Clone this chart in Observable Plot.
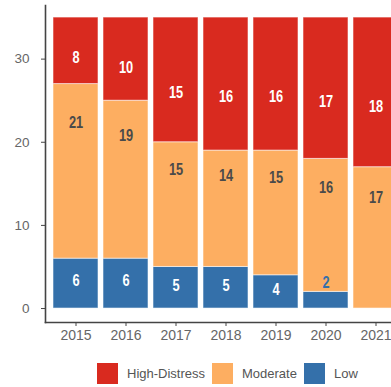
<!DOCTYPE html>
<html>
<head>
<meta charset="utf-8">
<script src="https://cdn.jsdelivr.net/npm/d3@7"></script>
<script src="https://cdn.jsdelivr.net/npm/@observablehq/plot@0.6"></script>
<style>
  body { margin: 0; background: #fff; font-family: "Liberation Sans", Arial, sans-serif; }
  #chart svg g[aria-label$="tick label"] text { fill: #666; }
  #legend { display: flex; align-items: center; margin-top: 13px; padding-left: 97px; font-size: 13px; color: #555; }
  #legend .sw { width: 21px; height: 21px; margin-right: 9px; flex: none; }
  #legend .lab { margin-right: 7px; white-space: nowrap; }
</style>
</head>
<body>
<div id="chart"></div>
<div id="legend"></div>
<script>
// Yearly counts per distress level
const years = ["2015", "2016", "2017", "2018", "2019", "2020", "2021"];
const series = ["Low", "Moderate", "High-Distress"];
const low = [6, 6, 5, 5, 4, 2, 0];
const moderate = [21, 19, 15, 14, 15, 16, 17];
const high = [8, 10, 15, 16, 16, 17, 18];
const colors = ["#3470aa", "#fdae61", "#d92a1f"];
const yTicks = [0, 10, 20, 30];

// Where inside each segment the value label sits (fraction from the bottom)
const vjust = {"Low": 0.55, "Moderate": 0.78, "High-Distress": 0.4};
const labelInk = {"Low": "#ffffff", "Moderate": "#4a4a4a", "High-Distress": "#ffffff"};

const valuesBySeries = {"Low": low, "Moderate": moderate, "High-Distress": high};

// Long table for the stacked bars
const rows = [];
years.forEach((year, i) => {
  series.forEach(s => rows.push({year, series: s, value: valuesBySeries[s][i]}));
});

// Label positions derived from the running stack totals
const labels = [];
years.forEach((year, i) => {
  let base = 0;
  series.forEach(s => {
    const v = valuesBySeries[s][i];
    if (v > 0) {
      const tiny = v < 3;
      labels.push({
        year, series: s, value: v, tiny,
        y: tiny ? base + v : base + v * vjust[s]
      });
    }
    base += v;
  });
});

const colorOf = Object.fromEntries(series.map((s, i) => [s, colors[i]]));
const labelFont = "'Liberation Sans Narrow', 'Liberation Sans', Arial, sans-serif";

const chart = Plot.plot({
  width: 391,
  height: 350,
  marginLeft: 45,
  marginRight: 0,
  marginTop: 5,
  marginBottom: 28,
  style: {fontFamily: "'Liberation Sans', Arial, sans-serif", background: "#fff"},
  x: {type: "band", domain: years, range: [45, 405], paddingInner: 0.1, paddingOuter: 0.15},
  y: {domain: [-1.68, 36.45]},
  color: {domain: series, range: colors},
  marks: [
    Plot.barY(rows, Plot.stackY({
      x: "year", y: "value", fill: "series", order: series,
      stroke: "#fff", strokeOpacity: 0.55, strokeWidth: 1
    })),
    Plot.text(labels.filter(d => !d.tiny), {
      x: "year", y: "y", text: d => String(d.value),
      fill: d => labelInk[d.series], className: "seg-label",
      fontFamily: labelFont, fontWeight: "bold", fontSize: 16
    }),
    Plot.text(labels.filter(d => d.tiny), {
      x: "year", y: "y", text: d => String(d.value),
      fill: d => colorOf[d.series], dy: -9, className: "seg-label",
      fontFamily: labelFont, fontWeight: "bold", fontSize: 16
    }),
    Plot.frame({anchor: "left", stroke: "#444", strokeWidth: 1.6}),
    Plot.frame({anchor: "bottom", stroke: "#444", strokeWidth: 1.6}),
    Plot.axisY({ticks: yTicks, tickSize: 4, tickPadding: 12, fontSize: 13.5, stroke: "#444", label: null}),
    Plot.axisX({tickSize: 4, tickPadding: 4, fontSize: 14, stroke: "#444", label: null})
  ]
});
document.getElementById("chart").appendChild(chart);

// Narrow the segment labels horizontally around their anchor
chart.querySelectorAll("g.seg-label text").forEach(t => {
  const tr = t.getAttribute("transform") || "";
  t.setAttribute("transform", tr + " scale(0.8,1)");
});

// Legend below the chart
const legend = document.getElementById("legend");
["High-Distress", "Moderate", "Low"].forEach(s => {
  const sw = document.createElement("span");
  sw.className = "sw";
  sw.style.background = colorOf[s];
  const lab = document.createElement("span");
  lab.className = "lab";
  lab.textContent = s;
  legend.appendChild(sw);
  legend.appendChild(lab);
});
</script>
</body>
</html>
